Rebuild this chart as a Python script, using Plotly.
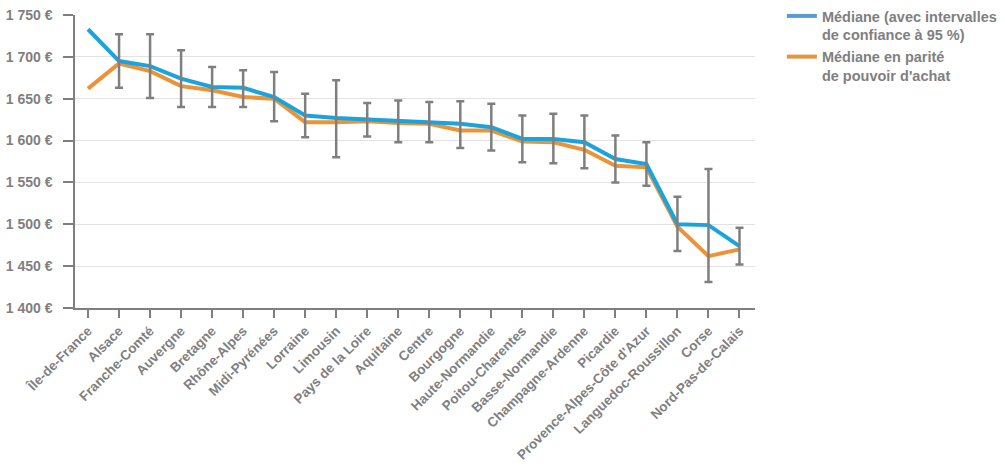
import plotly.graph_objects as go

regions = ["Île-de-France", "Alsace", "Franche-Comté", "Auvergne", "Bretagne", "Rhône-Alpes",
           "Midi-Pyrénées", "Lorraine", "Limousin", "Pays de la Loire", "Aquitaine", "Centre",
           "Bourgogne", "Haute-Normandie", "Poitou-Charentes", "Basse-Normandie",
           "Champagne-Ardenne", "Picardie", "Provence-Alpes-Côte d'Azur",
           "Languedoc-Roussillon", "Corse", "Nord-Pas-de-Calais"]
mediane = [1733, 1695, 1689, 1674, 1664, 1663, 1652, 1630, 1627, 1625, 1623, 1622,
           1620, 1616, 1602, 1602, 1598, 1578, 1572, 1500, 1499, 1474]
mediane_ppa = [1662, 1692, 1683, 1665, 1660, 1652, 1650, 1622, 1622, 1623, 1621, 1620,
               1612, 1612, 1599, 1598, 1589, 1570, 1568, 1497, 1462, 1470]
ic_haut = [None, 1727, 1727, 1708, 1688, 1684, 1682, 1656, 1672, 1645, 1648, 1646,
           1647, 1644, 1630, 1632, 1630, 1606, 1598, 1533, 1566, 1496]
ic_bas = [None, 1663, 1651, 1640, 1640, 1640, 1623, 1604, 1580, 1605, 1598, 1598,
          1591, 1588, 1574, 1573, 1567, 1550, 1546, 1468, 1431, 1452]
y_ticks = [1400, 1450, 1500, 1550, 1600, 1650, 1700, 1750]
y_ticktext = ["1 400 €", "1 450 €", "1 500 €", "1 550 €", "1 600 €", "1 650 €", "1 700 €", "1 750 €"]

grey = "#7f7f7f"
blue = "#1ba3dd"
orange = "#ec9337"

# error bars (points with an interval)
ex, ey, eplus, eminus = [], [], [], []
for r, m, h, b in zip(regions, mediane, ic_haut, ic_bas):
    if h is None:
        continue
    ex.append(r)
    ey.append(m)
    eplus.append(h - m)
    eminus.append(m - b)

fig = go.Figure()
fig.add_trace(go.Scatter(x=regions, y=mediane_ppa, mode="lines",
                         line=dict(color=orange, width=4), showlegend=False))
fig.add_trace(go.Scatter(x=regions, y=mediane, mode="lines",
                         line=dict(color=blue, width=4), showlegend=False))
fig.add_trace(go.Scatter(
    x=ex, y=ey, mode="markers", marker=dict(size=0.1, color="rgba(0,0,0,0)"),
    error_y=dict(type="data", symmetric=False, array=eplus, arrayminus=eminus,
                 color=grey, thickness=2.5, width=4),
    showlegend=False, hoverinfo="skip"))
# legend entries
fig.add_trace(go.Scatter(x=[None], y=[None], mode="lines",
                         line=dict(color="#5b9bd5", width=4),
                         name="Médiane (avec intervalles<br>de confiance à 95 %)"))
fig.add_trace(go.Scatter(x=[None], y=[None], mode="lines",
                         line=dict(color="#e8953f", width=4),
                         name="Médiane en parité<br>de pouvoir d'achat"))

fig.update_layout(
    width=1005, height=471,
    margin=dict(l=75, r=250, t=15, b=163),
    plot_bgcolor="white", paper_bgcolor="white",
    font=dict(family="Liberation Sans, Arial, sans-serif", size=14, color=grey, weight="bold"),
    legend=dict(xref="container", yref="container", x=0.778, y=1.006,
                xanchor="left", yanchor="top", valign="top",
                font=dict(size=14.5, color=grey, weight="bold"),
                tracegroupgap=6, itemwidth=30),
    xaxis=dict(type="category", categoryorder="array", categoryarray=regions,
               range=[-0.42, 21.5], tickangle=-45, automargin=False,
               showline=True, linecolor=grey, linewidth=1.5,
               ticks="outside", ticklen=8, tickcolor=grey, tickwidth=1.5,
               showgrid=False, tickfont=dict(size=13.5, color=grey, weight="bold")),
    yaxis=dict(range=[1400, 1750], tickvals=y_ticks, ticktext=y_ticktext,
               automargin=False,
               showline=True, linecolor=grey, linewidth=1.5,
               ticks="outside", ticklen=10, tickcolor=grey, tickwidth=1.5,
               ticklabelstandoff=8,
               showgrid=True, gridcolor="#e3e3e3", gridwidth=1, zeroline=False,
               tickfont=dict(size=14, color=grey, weight="bold")),
)

fig.write_html("out.html")
